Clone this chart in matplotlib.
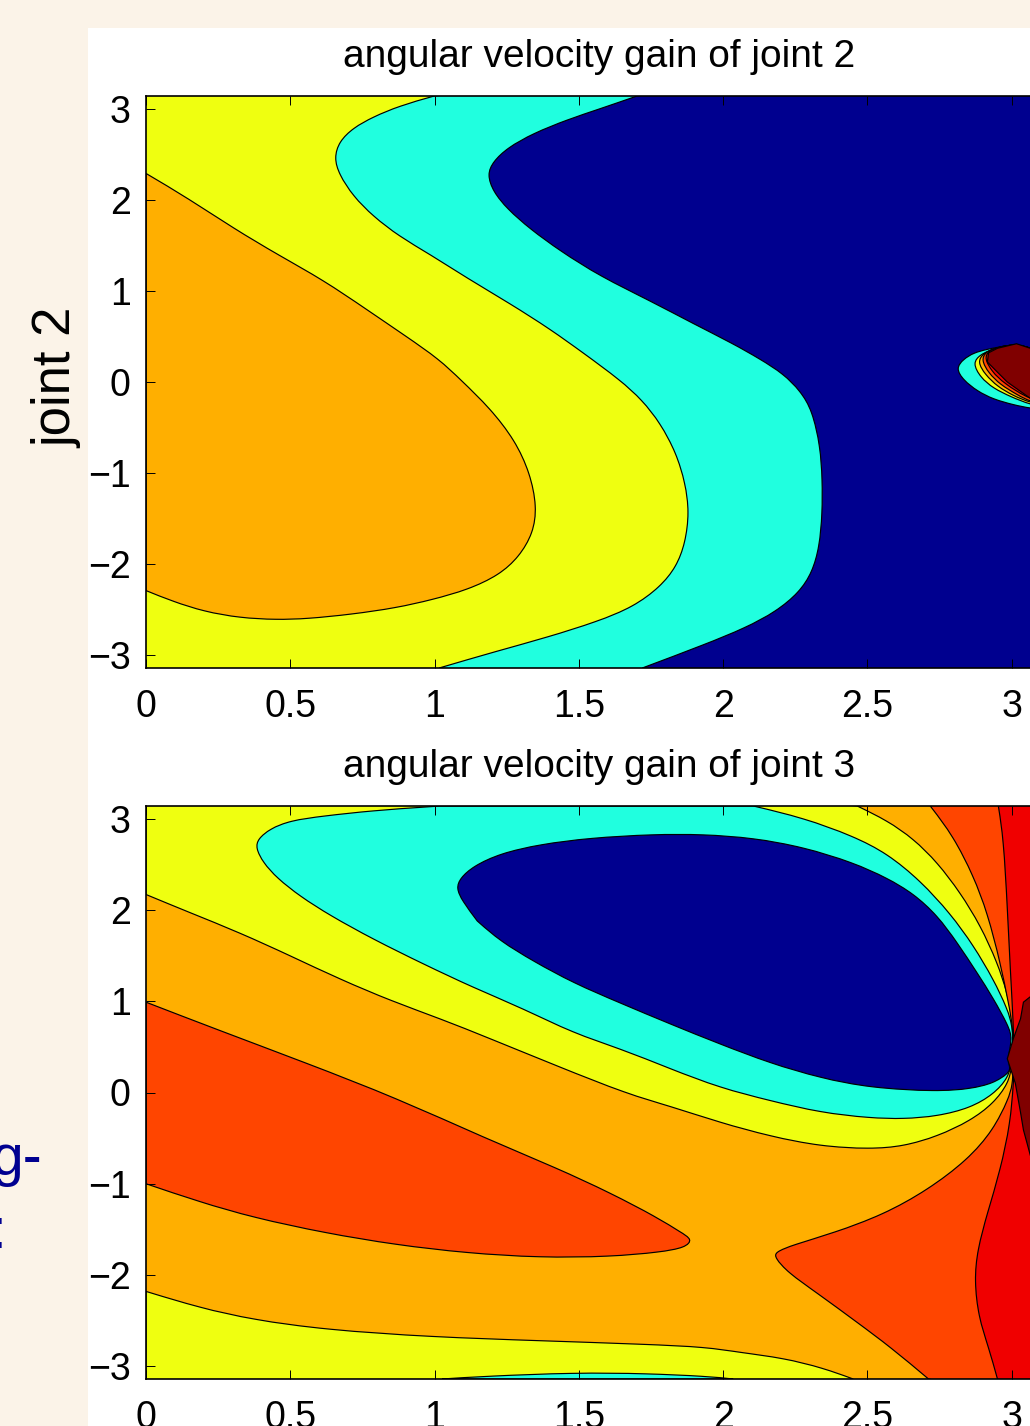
import numpy as np
import matplotlib
matplotlib.use('Agg')
from matplotlib import pyplot as plt
from matplotlib.path import Path
from matplotlib.patches import PathPatch, Rectangle

plt.rcParams['font.family'] = ['Liberation Sans', 'DejaVu Sans']

# contour colours
navy = '#00008f'
cyan = '#20ffdf'
yellow = '#efff10'
orange = '#ffaf00'
orangered = '#ff4500'
red = '#f00000'
darkred = '#800000'
beige = '#fbf3e8'

xticks = [0, 0.5, 1, 1.5, 2, 2.5, 3]
xticklabels = ['0', '0.5', '1', '1.5', '2', '2.5', '3']
yticks = [-3, -2, -1, 0, 1, 2, 3]
yticklabels = ['\u22123', '\u22122', '\u22121', '0', '1', '2', '3']
xmax = 3.14
ymax = 3.14

# joint 2 panel, contour lines
j2_orange_x = [0, .149, .302, .461, .614, .763, .902, 1.016, 1.092, 1.193, 1.279, 1.331, 1.355, 1.342, 1.293, 1.224, 1.116, .992, .867, .714, .558, .451, .326, .201, .094, 0]
j2_orange_y = [2.29, 2.01, 1.69, 1.39, 1.12, .80, .50, .25, .02, -.29, -.64, -1.00, -1.37, -1.66, -1.92, -2.12, -2.28, -2.39, -2.48, -2.55, -2.60, -2.61, -2.59, -2.52, -2.41, -2.29]
j2_cyan_x = [.999, .877, .787, .718, .669, .652, .669, .718, .787, .877, .985, 1.113, 1.262, 1.401, 1.515, 1.644, 1.720, 1.782, 1.838, 1.869, 1.883, 1.869, 1.838, 1.782, 1.689, 1.564, 1.394, 1.210, 1.016]
j2_cyan_y = [3.14, 3.03, 2.91, 2.79, 2.64, 2.46, 2.28, 2.04, 1.82, 1.60, 1.40, 1.14, .86, .58, .32, .02, -.20, -.45, -.78, -1.11, -1.43, -1.77, -2.03, -2.25, -2.47, -2.63, -2.80, -2.96, -3.14]
j2_navy_x = [1.702, 1.574, 1.460, 1.342, 1.252, 1.203, 1.182, 1.203, 1.252, 1.331, 1.435, 1.574, 1.748, 1.897, 2.035, 2.129, 2.209, 2.268, 2.309, 2.337, 2.344, 2.344, 2.334, 2.309, 2.264, 2.184, 2.077, 1.938, 1.720]
j2_navy_y = [3.14, 3.00, 2.88, 2.73, 2.57, 2.42, 2.28, 2.09, 1.90, 1.68, 1.44, 1.16, .89, .64, .42, .25, .09, -.10, -.31, -.71, -1.07, -1.44, -1.81, -2.09, -2.31, -2.52, -2.70, -2.88, -3.14]

# small blob near x=3 in joint 2 panel
blob_cyan_x = [3.14, 3.065, 3.017, 2.951, 2.916, 2.868, 2.833, 2.806, 2.833, 2.881, 2.937, 3.006, 3.065, 3.14]
blob_cyan_y = [.30, .37, .42, .38, .36, .32, .25, .15, .02, -.10, -.19, -.25, -.29, -.31]
blob_yellow_x = [3.14, 3.065, 3.017, 2.951, 2.920, 2.892, 2.864, 2.892, 2.937, 2.996, 3.065, 3.14]
blob_yellow_y = [.30, .37, .42, .38, .34, .30, .21, .05, -.07, -.16, -.25, -.29]
blob_orange_x = [3.14, 3.065, 3.017, 2.951, 2.902, 2.881, 2.909, 2.951, 3.006, 3.065, 3.14]
blob_orange_y = [.30, .37, .42, .38, .32, .22, .08, -.05, -.15, -.23, -.26]
blob_orangered_x = [3.14, 3.065, 3.017, 2.951, 2.909, 2.895, 2.920, 2.961, 3.020, 3.065, 3.14]
blob_orangered_y = [.30, .37, .42, .38, .33, .24, .10, -.03, -.14, -.22, -.25]
blob_red_x = [3.14, 3.065, 3.017, 2.951, 2.920, 2.905, 2.933, 2.972, 3.065, 3.14]
blob_red_y = [.30, .37, .42, .38, .34, .26, .11, -.01, -.20, -.23]
blob_darkred_x = [3.14, 3.065, 3.017, 2.951, 2.920, 2.916, 2.944, 2.985, 3.065, 3.14]
blob_darkred_y = [.30, .37, .42, .37, .32, .22, .13, 0, -.18, -.22]

# joint 3 panel
j3_low_yellow_x = [0, .187, .371, .621, .992, 1.363, 1.734, 1.942, 2.060, 2.209, 2.347, 2.451]
j3_low_yellow_y = [-2.18, -2.36, -2.49, -2.60, -2.68, -2.72, -2.76, -2.79, -2.85, -2.91, -3.02, -3.14]
j3_lens_x = [1.026, 1.175, 1.488, 1.734, 1.942, 2.035]
j3_lens_y = [-3.14, -3.11, -3.07, -3.08, -3.11, -3.14]
j3_lobe_x = [0, .246, .558, .867, 1.175, 1.425, 1.609, 1.772, 1.852, 1.895, 1.870, 1.782, 1.609, 1.363, 1.113, .867, .621, .371, .187, 0]
j3_lobe_y = [.99, .69, .32, -.06, -.50, -.83, -1.10, -1.37, -1.53, -1.61, -1.70, -1.75, -1.80, -1.81, -1.76, -1.67, -1.54, -1.37, -1.20, -1.00]
j3_yellow_x = [0, .153, .326, .499, .673, .853, 1.019, 1.193, 1.425, 1.671, 1.817, 1.990, 2.164, 2.337, 2.510, 2.625, 2.743, 2.857, 2.937, 2.989, 3.003, 3.006, 2.985, 2.951, 2.892, 2.822, 2.743, 2.660, 2.569, 2.465]
j3_yellow_y = [2.17, 1.97, 1.75, 1.50, 1.24, 1.00, .81, .59, .29, -.02, -.15, -.33, -.48, -.59, -.62, -.59, -.48, -.31, -.12, .10, .30, .76, 1.09, 1.42, 1.83, 2.19, 2.52, 2.78, 2.98, 3.14]
j3_cyan_x = [1.019, .974, .787, .614, .499, .430, .388, .380, .406, .454, .534, .638, .787, .960, 1.134, 1.307, 1.481, 1.644, 1.817, 1.990, 2.164, 2.337, 2.510, 2.625, 2.743, 2.857, 2.937, 2.989, 3.003, 3.006, 2.985, 2.937, 2.868, 2.788, 2.684, 2.569, 2.451, 2.278, 2.105]
j3_cyan_y = [3.14, 3.13, 3.09, 3.03, 2.98, 2.89, 2.78, 2.68, 2.52, 2.35, 2.15, 1.94, 1.68, 1.41, 1.15, .92, .65, .48, .26, .05, -.09, -.22, -.28, -.29, -.26, -.17, -.02, .16, .36, .70, .92, 1.24, 1.61, 1.96, 2.32, 2.62, 2.81, 3.01, 3.14]
j3_navy_x = [1.148, 1.227, 1.342, 1.481, 1.644, 1.817, 1.990, 2.164, 2.337, 2.510, 2.743, 2.857, 2.937, 2.989, 2.996, 2.985, 3.003, 2.989, 2.937, 2.881, 2.812, 2.743, 2.660, 2.569, 2.451, 2.278, 2.105, 1.931, 1.758, 1.539, 1.366, 1.227, 1.134, 1.089, 1.075, 1.096, 1.148]
j3_navy_y = [1.88, 1.66, 1.44, 1.20, .98, .75, .53, .32, .16, .05, .01, .04, .10, .21, .27, .37, .59, .73, 1.03, 1.31, 1.64, 1.94, 2.18, 2.35, 2.52, 2.69, 2.79, 2.83, 2.83, 2.79, 2.72, 2.62, 2.48, 2.35, 2.24, 2.10, 1.88]
j3_orangered_x = [2.718, 2.798, 2.868, 2.916, 2.961, 2.989, 3.006, 3.006, 3.003, 2.989, 2.937, 2.847, 2.708, 2.555, 2.382, 2.243, 2.180, 2.180, 2.223, 2.327, 2.465, 2.580, 2.712]
j3_orangered_y = [3.14, 2.81, 2.37, 1.97, 1.42, .98, .70, .30, .08, -.07, -.41, -.74, -1.07, -1.34, -1.54, -1.67, -1.75, -1.81, -1.97, -2.20, -2.52, -2.79, -3.14]
j3_red_x = [2.954, 2.972, 2.985, 2.996, 3.006, 3.010, 3.006, 2.996, 2.961, 2.916, 2.881, 2.871, 2.885, 2.920, 2.951]
j3_red_y = [3.14, 2.78, 2.04, 1.31, .76, .30, .10, -.33, -.85, -1.32, -1.73, -2.06, -2.46, -2.79, -3.14]
j3_darkred_x = [3.14, 3.065, 3.041, 3.031, 3.006, 2.985, 3.013, 3.031, 3.041, 3.065, 3.14]
j3_darkred_y = [1.12, 1.05, .99, .81, .59, .37, .10, -.22, -.41, -.69, -1.18]


def fill_region(ax, xs, ys, color, close_x=(), close_y=(), smooth=True):
    # cubic b-spline over the read points to even out reading noise, straight lines to close
    pts = np.column_stack([xs, ys])
    verts = [pts[0]]
    codes = [Path.MOVETO]
    if smooth:
        p = np.vstack([pts[0], pts[0], pts, pts[-1], pts[-1]])
        for i in range(1, len(p) - 2):
            verts += [(2 * p[i] + p[i + 1]) / 3, (p[i] + 2 * p[i + 1]) / 3, (p[i] + 4 * p[i + 1] + p[i + 2]) / 6]
            codes += [Path.CURVE4] * 3
    else:
        verts += list(pts[1:])
        codes += [Path.LINETO] * (len(pts) - 1)
    for cx, cy in zip(close_x, close_y):
        verts.append((cx, cy))
        codes.append(Path.LINETO)
    verts.append(pts[0])
    codes.append(Path.CLOSEPOLY)
    ax.add_patch(PathPatch(Path(verts, codes), facecolor=color, edgecolor='black', linewidth=0.85))


def setup_axes(ax, title, base):
    ax.set_facecolor(base)
    ax.set_xlim(0, xmax)
    ax.set_ylim(-ymax, ymax)
    ax.set_xticks(xticks)
    ax.set_xticklabels(xticklabels)
    ax.set_yticks(yticks)
    ax.set_yticklabels(yticklabels)
    ax.tick_params(direction='in', length=6.5, width=0.7, top=True, right=True, labelsize=27)
    ax.tick_params(axis='x', pad=15)
    ax.tick_params(axis='y', pad=11)
    for s in ax.spines.values():
        s.set_linewidth(1.2)
    ax.set_title(title, fontsize=28, pad=21)


W, H = 1030, 1426
fig = plt.figure(figsize=(W / 100, H / 100), dpi=100, facecolor=beige)
fig.patches.append(Rectangle((88 / W, 0), (W - 88) / W, (H - 28) / H, transform=fig.transFigure, facecolor='white', edgecolor='none', figure=fig, zorder=-1))

ax1 = fig.add_axes([146 / W, (H - 668) / H, 906 / W, 572 / H])
setup_axes(ax1, 'angular velocity gain of joint 2', yellow)
fill_region(ax1, j2_orange_x, j2_orange_y, orange)
fill_region(ax1, j2_cyan_x, j2_cyan_y, cyan, [4, 4], [-4, 4])
fill_region(ax1, j2_navy_x, j2_navy_y, navy, [4, 4], [-4, 4])
fill_region(ax1, blob_cyan_x, blob_cyan_y, cyan)
fill_region(ax1, blob_yellow_x, blob_yellow_y, yellow)
fill_region(ax1, blob_orange_x, blob_orange_y, orange)
fill_region(ax1, blob_orangered_x, blob_orangered_y, orangered)
fill_region(ax1, blob_red_x, blob_red_y, red)
fill_region(ax1, blob_darkred_x, blob_darkred_y, darkred, smooth=False)
ax1.set_ylabel('joint 2', fontsize=38, va='center')
ax1.yaxis.set_label_coords((57 - 146) / 906, (668 - 378) / 572)

ax2 = fig.add_axes([146 / W, (H - 1379) / H, 906 / W, 573 / H])
setup_axes(ax2, 'angular velocity gain of joint 3', orange)
fill_region(ax2, j3_low_yellow_x, j3_low_yellow_y, yellow, [0], [-4])
fill_region(ax2, j3_lens_x, j3_lens_y, cyan)
fill_region(ax2, j3_lobe_x, j3_lobe_y, orangered)
fill_region(ax2, j3_yellow_x, j3_yellow_y, yellow, [0], [4])
fill_region(ax2, j3_cyan_x, j3_cyan_y, cyan)
fill_region(ax2, j3_navy_x, j3_navy_y, navy)
fill_region(ax2, j3_orangered_x, j3_orangered_y, orangered, [4, 4], [-4, 4])
fill_region(ax2, j3_red_x, j3_red_y, red, [4, 4], [-4, 4])
fill_region(ax2, j3_darkred_x, j3_darkred_y, darkred, [4, 4], [-4, 4], smooth=False)

# cut off text from the slide behind the figure
fig.text(42 / W, (H - 1175) / H, 'g-', color='#000090', fontsize=41, ha='right', va='baseline')
fig.text(-9 / W, (H - 1248) / H, ':', color='#000090', fontsize=41, ha='left', va='baseline')

plt.savefig('out.png', dpi=100, facecolor=beige)
